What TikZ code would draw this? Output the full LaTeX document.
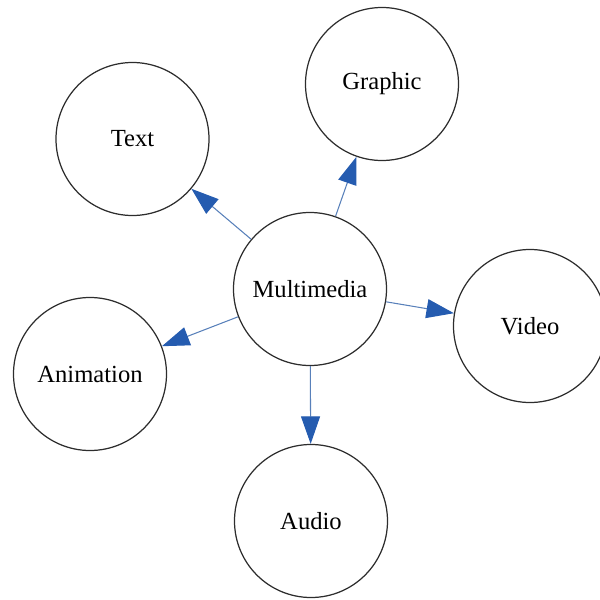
\documentclass[tikz,border=0pt]{standalone}
\usepackage{fontspec}
\setmainfont{Liberation Serif}
\usepackage{xcolor}
\usepackage{tikz}
\usetikzlibrary{shapes,arrows.meta,positioning,calc}
\definecolor{edgeblue}{RGB}{88, 128, 186}
\definecolor{headblue}{RGB}{37, 92, 176}
\definecolor{ringgray}{RGB}{45, 45, 45}

\begin{document}
\begin{tikzpicture}[
    topic/.style={circle,draw=ringgray,line width=0.7pt,minimum size=3.06cm,inner sep=0pt,font=\fontsize{14}{17}\selectfont},
    link/.style={draw=edgeblue,line width=0.6pt,-{Triangle[length=0.55cm,width=0.38cm,color=headblue,fill=headblue]}}
  ]
    \useasboundingbox (0,0) rectangle (12,-12);
    \node[topic] (mm) at (6.2,-5.78) {Multimedia};
    \node[topic] (text) at (2.65,-2.78) {Text};
    \node[topic] (graphic) at (7.64,-1.68) {Graphic};
    \node[topic] (video) at (10.6,-6.52) {Video};
    \node[topic] (anim) at (1.8,-7.48) {Animation};
    \node[topic] (audio) at (6.22,-10.42) {Audio};
    \draw[link] (mm) -- (text);
    \draw[link] (mm) -- (graphic);
    \draw[link] (mm) -- (video);
    \draw[link] (mm) -- (anim);
    \draw[link] (mm) -- (audio);
\end{tikzpicture}
\end{document}
